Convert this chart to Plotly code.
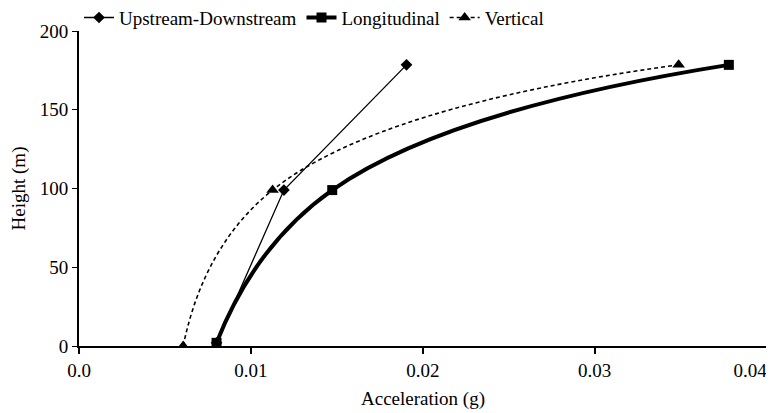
import plotly.graph_objects as go

# Data
up_x = [0.0080, 0.01192, 0.01905]
up_y = [2, 99, 178.5]

lon_x = [0.0080, 0.01473, 0.0378]
lon_y = [2, 99, 178.5]

ver_x = [0.00606, 0.01126, 0.03488]
ver_y = [0, 99, 178.5]

x_tickvals = [0.0, 0.01, 0.02, 0.03, 0.04]
x_ticktext = ["0.0", "0.01", "0.02", "0.03", "0.04" + "\u00a0" * 7]
y_tickvals = [0, 50, 100, 150, 200]

FONT = "Liberation Serif, Times New Roman, serif"

fig = go.Figure()
fig.add_trace(go.Scatter(
    x=up_x, y=up_y, name="Upstream-Downstream", mode="lines+markers",
    line=dict(color="black", width=1.3),
    marker=dict(symbol="diamond", size=9, color="black"),
))
fig.add_trace(go.Scatter(
    x=lon_x, y=lon_y, name="Longitudinal", mode="lines+markers",
    line=dict(color="black", width=4, shape="spline", smoothing=1.3),
    marker=dict(symbol="square", size=10, color="black"),
))
fig.add_trace(go.Scatter(
    x=ver_x, y=ver_y, name="Vertical", mode="lines+markers",
    line=dict(color="black", width=1.6, dash="4px,3px", shape="spline", smoothing=1.3),
    marker=dict(symbol="triangle-up", size=11, color="black"),
))

# the page body adds an 8px offset, so the figure is laid out in shifted coordinates
fig.update_layout(
    width=766, height=405,
    margin=dict(l=71, r=7, t=23, b=67, autoexpand=False),
    paper_bgcolor="white", plot_bgcolor="white",
    font=dict(family=FONT, size=19, color="black"),
    showlegend=True,
    legend=dict(
        orientation="h", x=0, y=0.982, xref="paper", yref="paper",
        xanchor="left", yanchor="bottom",
        font=dict(family=FONT, size=19, color="black"),
        bgcolor="rgba(0,0,0,0)", itemwidth=30,
        tracegroupgap=0,
    ),
    xaxis=dict(
        range=[0, 0.04002], tickvals=x_tickvals, ticktext=x_ticktext,
        ticklabeloverflow="allow",
        showgrid=False, zeroline=False,
        showline=True, linecolor="black", linewidth=2,
        ticks="outside", ticklen=6, tickwidth=2, tickcolor="black",
        title=dict(text="Acceleration (g)", font=dict(family=FONT, size=19), standoff=12),
        tickfont=dict(family=FONT, size=19),
    ),
    yaxis=dict(
        range=[0, 200], tickvals=y_tickvals,
        showgrid=False, zeroline=False,
        showline=True, linecolor="black", linewidth=2,
        ticks="outside", ticklen=5, tickwidth=1, tickcolor="black",
        title=dict(text="Height (m)", font=dict(family=FONT, size=19), standoff=14),
        tickfont=dict(family=FONT, size=19),
    ),
)

fig.write_html("out.html")
